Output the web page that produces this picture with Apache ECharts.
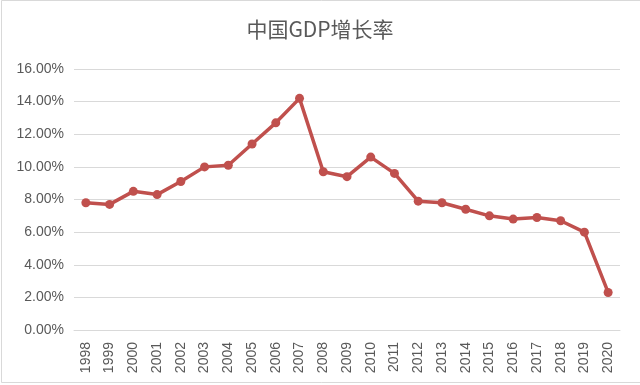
<!DOCTYPE html>
<html>
<head>
<meta charset="utf-8">
<script src="https://cdn.jsdelivr.net/npm/echarts@6/dist/echarts.min.js"></script>
<style>
html,body{margin:0;padding:0;background:#fff;}
#c{width:640px;height:385px;}
</style>
</head>
<body>
<div id="c"></div>
<script>
const years = ['1998','1999','2000','2001','2002','2003','2004','2005','2006','2007','2008','2009','2010','2011','2012','2013','2014','2015','2016','2017','2018','2019','2020'];
const growth = [7.8,7.7,8.5,8.3,9.1,10.0,10.1,11.4,12.7,14.2,9.7,9.4,10.6,9.6,7.9,7.8,7.4,7.0,6.8,6.9,6.7,6.0,2.3];
const yTicks = [0,2,4,6,8,10,12,14,16];

const chart = echarts.init(document.getElementById('c'));
chart.setOption({
  backgroundColor: '#fff',
  animation: false,
  title: {
    text: '中国GDP增长率',
    left: 'center',
    top: 14,
    textStyle: {fontFamily: 'Noto Sans CJK SC', fontSize: 21, fontWeight: 'normal', color: '#595959'}
  },
  graphic: [{
    type: 'rect', shape: {x: 1.5, y: 0.5, width: 640, height: 382}, silent: true,
    style: {fill: 'none', stroke: '#d9d9d9', lineWidth: 1}
  }],
  grid: {left: 74, right: 20, top: 69, bottom: 55},
  xAxis: {
    type: 'category',
    data: years,
    boundaryGap: true,
    axisLine: {lineStyle: {color: '#d9d9d9'}},
    axisTick: {show: false},
    axisLabel: {rotate: 90, color: '#595959', fontSize: 14, fontFamily: 'Liberation Sans', margin: 12, interval: 0}
  },
  yAxis: {
    type: 'value',
    min: yTicks[0], max: yTicks[yTicks.length-1], interval: 2,
    axisLine: {show: false},
    axisTick: {show: false},
    splitLine: {lineStyle: {color: '#d9d9d9'}},
    axisLabel: {color: '#595959', fontSize: 14, fontFamily: 'Liberation Sans', margin: 10,
      formatter: v => v.toFixed(2) + '%'}
  },
  series: [{
    type: 'line',
    data: growth,
    symbol: 'circle',
    symbolSize: 9,
    lineStyle: {color: '#C0504D', width: 3.5},
    itemStyle: {color: '#C0504D'}
  }]
});
</script>
</body>
</html>
